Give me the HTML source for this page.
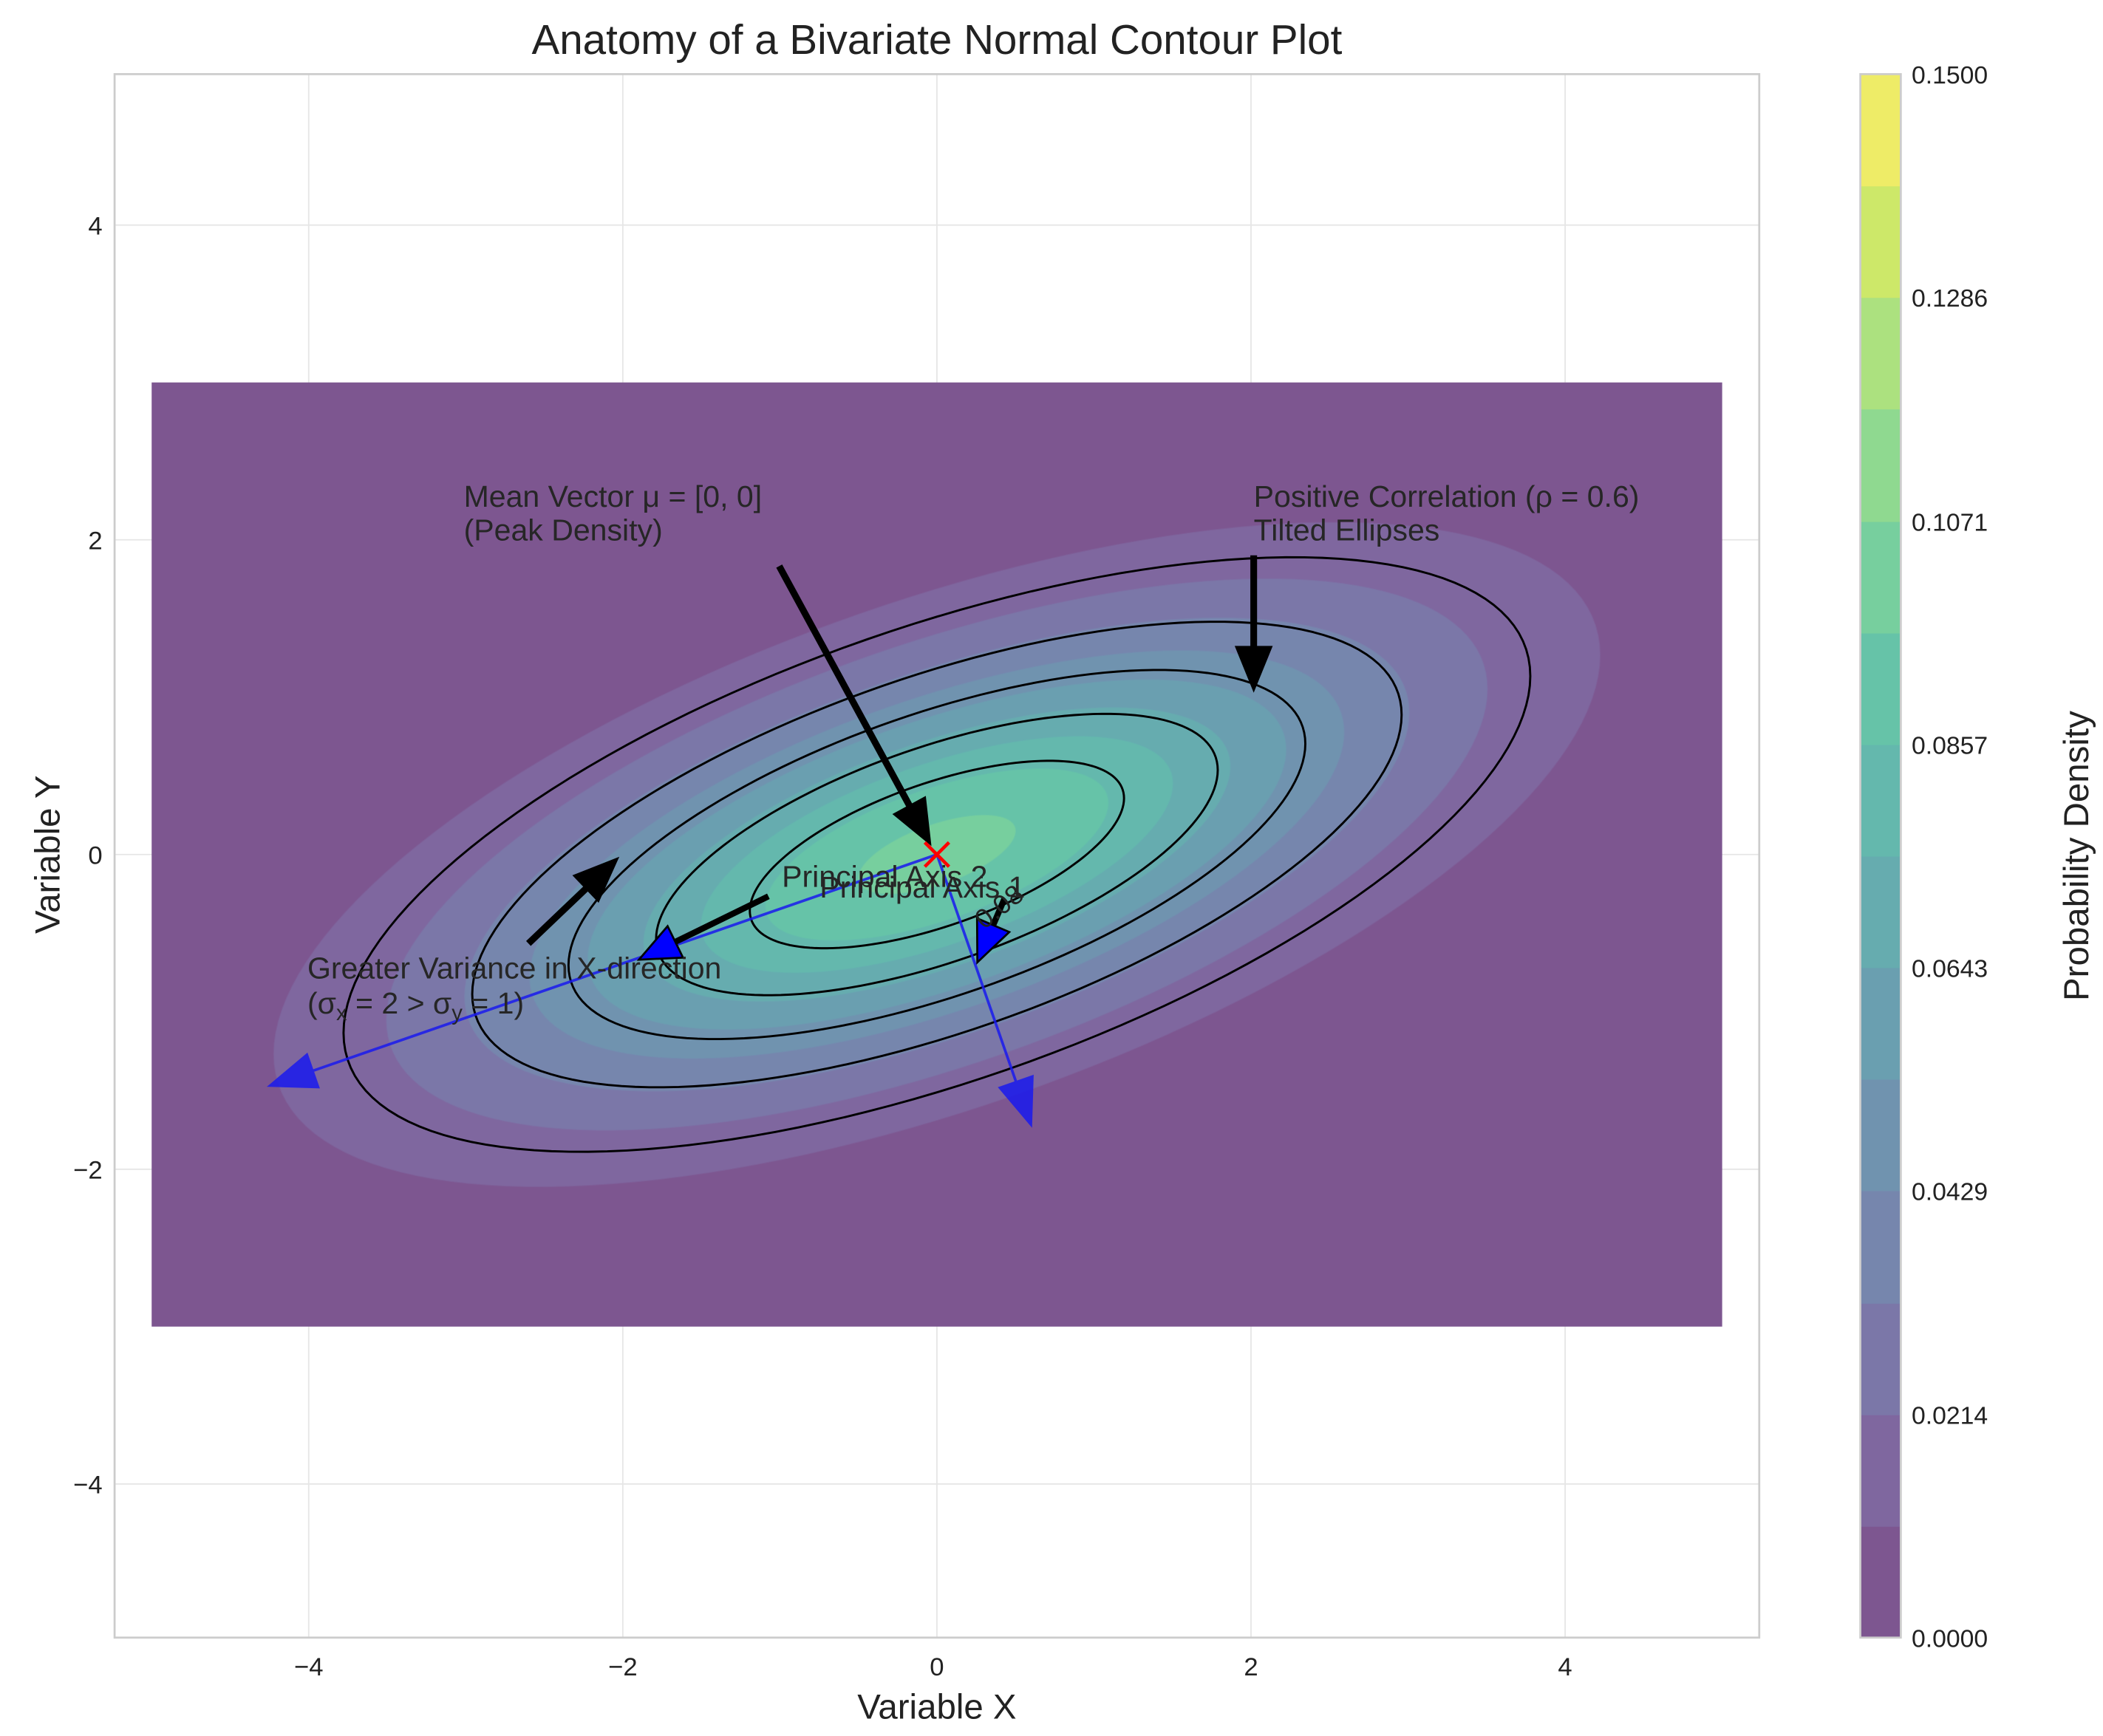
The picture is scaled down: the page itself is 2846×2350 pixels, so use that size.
<!DOCTYPE html>
<html><head><meta charset="utf-8"><style>
html,body{margin:0;padding:0;background:#fff;}
svg{display:block;font-family:"Liberation Sans","DejaVu Sans",sans-serif;}
</style></head><body>
<svg id="chart" width="2846" height="2350" viewBox="0 0 1560 1288" preserveAspectRatio="none" xmlns="http://www.w3.org/2000/svg">
<rect x="0" y="0" width="1560" height="1288" fill="#fff"/>
<g id="grid"></g>
<g id="fills"></g>
<g id="lines"></g>
<rect x="85" y="55" width="1220" height="1160" fill="none" stroke="#cccccc" stroke-width="1.5"/>
<g id="ticks"></g>
<g id="annot"></g>
<g id="cbar"></g>
<text x="695" y="40" font-size="31" text-anchor="middle" fill="#222">Anatomy of a Bivariate Normal Contour Plot</text>
<text x="695" y="1275" font-size="26" text-anchor="middle" fill="#222">Variable X</text>
<text x="0" y="0" font-size="26" text-anchor="middle" fill="#222" transform="translate(44,634) rotate(-90)">Variable Y</text>
<text x="0" y="0" font-size="26" text-anchor="middle" fill="#222" transform="translate(1549,635) rotate(-90)">Probability Density</text>
</svg>
<script>
const xTicks = [-4, -2, 0, 2, 4];
const yTicks = [-4, -2, 0, 2, 4];
const fillLevels = [0, 0.0107, 0.0214, 0.0321, 0.0429, 0.0536, 0.0643, 0.0750, 0.0857, 0.0964, 0.1071, 0.1179, 0.1286, 0.1393, 0.1500];
const lineLevels = [0.0167, 0.0333, 0.0500, 0.0667, 0.0833];
const cbarTickLabels = ["0.0000", "0.0214", "0.0429", "0.0643", "0.0857", "0.1071", "0.1286", "0.1500"];
const sigmaX = 2, sigmaY = 1, rho = 0.6;
const gridExtentX = [-5, 5], gridExtentY = [-3, 3];
const axis1End = [-4.25, -1.47];
const axis2End = [0.6, -1.72];

const NS = "http://www.w3.org/2000/svg";
const X = v => 695 + v * 116.5;
const Y = v => 634 - v * 116.75;
function mk(tag, attrs, parent) { const e = document.createElementNS(NS, tag); for (const k in attrs) e.setAttribute(k, attrs[k]); parent.appendChild(e); return e; }
const vir = [[68,1,84],[72,36,117],[65,68,135],[53,95,141],[42,120,142],[33,145,140],[34,168,132],[68,191,112],[122,209,81],[189,223,38],[253,231,37]];
function viridis(t) { t = Math.max(0, Math.min(1, t)) * 10; const i = Math.min(9, Math.floor(t)); const f = t - i; const a = vir[i], b = vir[i+1];
  const c = a.map((v, k) => v + (b[k] - v) * f).map(v => Math.round(0.7 * v + 0.3 * 255)); return `rgb(${c[0]},${c[1]},${c[2]})`; }
const peak = 1 / (2 * Math.PI * sigmaX * sigmaY * Math.sqrt(1 - rho * rho));
function ellipsePath(level) {
  const c = 2 * Math.log(peak / level); const r = Math.sqrt(c); let d = "";
  for (let i = 0; i <= 160; i++) { const t = i / 160 * 2 * Math.PI;
    const x = sigmaX * r * Math.cos(t); const y = sigmaY * r * (rho * Math.cos(t) + Math.sqrt(1 - rho * rho) * Math.sin(t));
    d += (i ? "L" : "M") + X(x).toFixed(2) + "," + Y(y).toFixed(2); }
  return d + "Z";
}
const grid = document.getElementById("grid");
xTicks.forEach(v => { const l = mk("line", {x1: X(v), x2: X(v), y1: 55, y2: 1215, stroke: "#e6e6e6", "stroke-width": 1}, grid);
    });
yTicks.forEach(v => { const l = mk("line", {x1: 85, x2: 1305, y1: Y(v), y2: Y(v), stroke: "#e6e6e6", "stroke-width": 1}, grid);
    });
const nb = fillLevels.length - 1;
const fills = document.getElementById("fills");
const base = mk("rect", {x: X(gridExtentX[0]), y: Y(gridExtentY[1]), width: X(gridExtentX[1]) - X(gridExtentX[0]), height: Y(gridExtentY[0]) - Y(gridExtentY[1]), fill: viridis(0.5 / nb)}, fills);


for (let k = 1; k < nb; k++) { if (fillLevels[k] >= peak) break;
  const p = mk("path", {d: ellipsePath(fillLevels[k]), fill: viridis((k + 0.5) / nb), stroke: viridis(k / nb), "stroke-width": 0.6}, fills);
  
   }
const lines = document.getElementById("lines");
lineLevels.forEach(lv => { const p = mk("path", {d: ellipsePath(lv), fill: "none", stroke: "#000", "stroke-width": 1.6}, lines);
  
   });
const ticks = document.getElementById("ticks");
xTicks.forEach(v => { const t = mk("text", {x: X(v), y: 1243, "font-size": 19, "text-anchor": "middle", fill: "#222"}, ticks); t.textContent = v < 0 ? "\u2212" + (-v) : v;
    });
yTicks.forEach(v => { const t = mk("text", {x: 76, y: Y(v) + 7, "font-size": 19, "text-anchor": "end", fill: "#222"}, ticks); t.textContent = v < 0 ? "\u2212" + (-v) : v;
    });
// colorbar
const cb = document.getElementById("cbar"); const cbTop = 55, cbBot = 1215, cbH = cbBot - cbTop;
const CY = v => cbBot - (v - fillLevels[0]) / (fillLevels[nb] - fillLevels[0]) * cbH;
for (let k = 0; k < nb; k++) { const r = mk("rect", {x: 1380, y: CY(fillLevels[k+1]), width: 30, height: CY(fillLevels[k]) - CY(fillLevels[k+1]) + 0.5, fill: viridis((k + 0.5) / nb)}, cb);
    }
mk("rect", {x: 1380, y: cbTop, width: 30, height: cbH, fill: "none", stroke: "#cccccc", "stroke-width": 1.5}, cb);
cbarTickLabels.forEach(s => { const t = mk("text", {x: 1418, y: CY(parseFloat(s)) + 7, "font-size": 18.5, fill: "#222"}, cb); t.textContent = s;
    });
// annotations
const an = document.getElementById("annot");
function arrow(x1, y1, x2, y2, fillc, strokec, lw, hl, hw, op, name) {
  const g = mk("g", {opacity: op}, an);
  
  
  const dx = x2 - x1, dy = y2 - y1, L = Math.hypot(dx, dy), ux = dx / L, uy = dy / L;
  const bx = x2 - ux * hl, by = y2 - uy * hl;
  mk("line", {x1: x1, y1: y1, x2: bx, y2: by, stroke: strokec === "none" ? fillc : strokec, "stroke-width": lw}, g);
  mk("polygon", {points: `${x2},${y2} ${bx - uy * hw},${by + ux * hw} ${bx + uy * hw},${by - ux * hw}`, fill: fillc, stroke: strokec === "none" ? fillc : strokec, "stroke-width": 1.5, "stroke-linejoin": "miter"}, g);
}
arrow(X(0), Y(0), X(axis1End[0]), Y(axis1End[1]), "#1a1aee", "none", 2, 34, 13, 0.85, "principal-axis-1-vector");
arrow(X(0), Y(0), X(axis2End[0]), Y(axis2End[1]), "#1a1aee", "none", 2, 34, 13, 0.85, "principal-axis-2-vector");
arrow(578, 420, 690, 626, "#000", "#000", 5, 32, 13, 1, "mean-arrow");
arrow(930, 412, 930, 512, "#000", "#000", 5, 32, 13, 1, "correlation-arrow");
arrow(392, 700, 458, 637, "#000", "#000", 5, 32, 13, 1, "variance-arrow");
arrow(570, 665, 474, 712, "#0000ff", "#000", 4.5, 30, 13, 1, "axis-1-label-arrow");
arrow(745, 667, 725, 714, "#0000ff", "#000", 4.5, 30, 13, 1, "axis-2-label-arrow");
const mg = mk("g", {stroke: "#ff0000", "stroke-width": 2.5}, an);


mk("line", {x1: X(0) - 9, y1: Y(0) - 9, x2: X(0) + 9, y2: Y(0) + 9}, mg);
mk("line", {x1: X(0) - 9, y1: Y(0) + 9, x2: X(0) + 9, y2: Y(0) - 9}, mg);
const texts = [
  [344, 376, "Mean Vector \u03bc = [0, 0]", "mean-label"], [344, 401, "(Peak Density)", "mean-sublabel"],
  [930, 376, "Positive Correlation (\u03c1 = 0.6)", "correlation-label"], [930, 401, "Tilted Ellipses", "correlation-sublabel"],
  [228, 726, "Greater Variance in X-direction", "variance-label"],
  [580, 658, "Principal Axis 2", "principal-axis-2-label"], [608, 666, "Principal Axis 1", "principal-axis-1-label"]
];
texts.forEach(a => { const t = mk("text", {x: a[0], y: a[1], "font-size": 22.5, fill: "#262626"}, an); t.textContent = a[2];
    });
const sv = mk("text", {x: 228, y: 752, "font-size": 22.5, fill: "#262626"}, an);


sv.innerHTML = '(\u03c3<tspan baseline-shift="-30%" font-size="16">x</tspan> = 2 &gt; \u03c3<tspan baseline-shift="-30%" font-size="16">y</tspan> = 1)';
const cl = mk("text", {x: 0, y: 0, "font-size": 20, fill: "#222", transform: "translate(730,690) rotate(-38)"}, an);
cl.textContent = "0.08";


</script>
</body></html>
